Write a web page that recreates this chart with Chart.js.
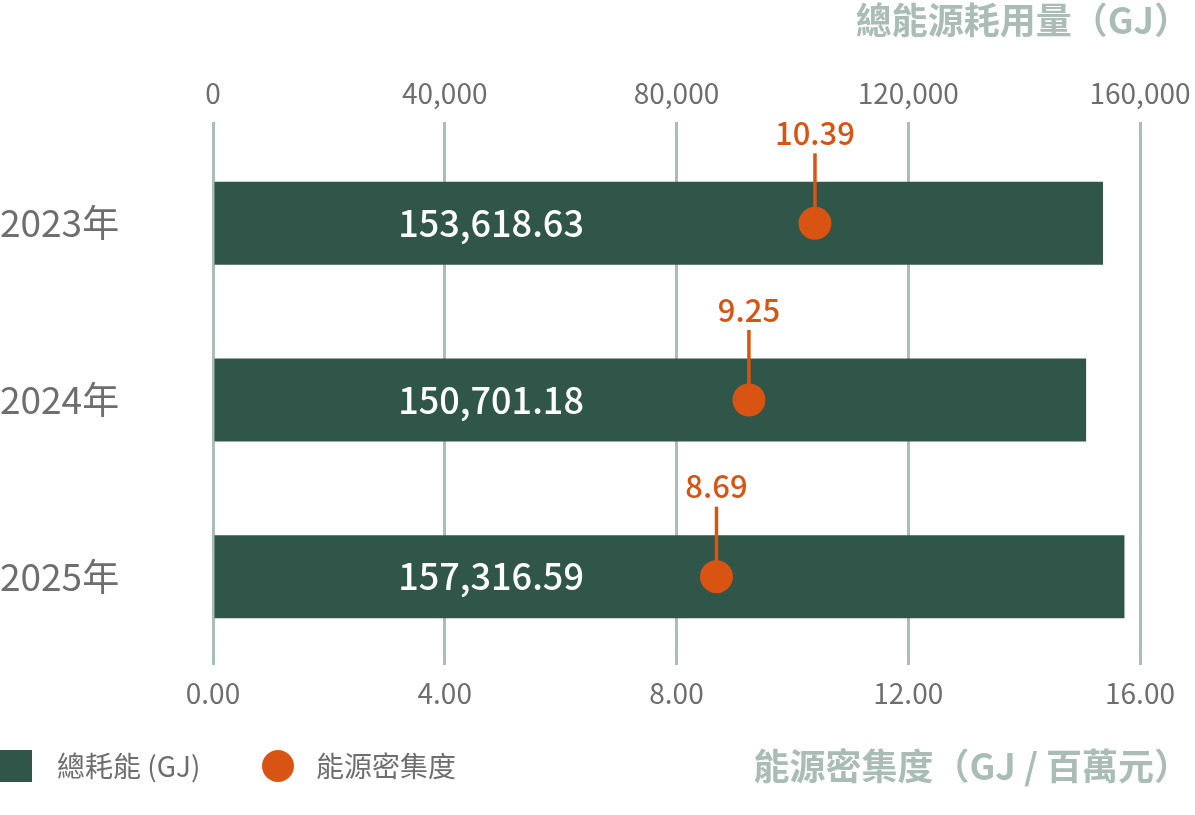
<!DOCTYPE html>
<html lang="zh-Hant">
<head>
<meta charset="utf-8">
<title>總能源耗用量與能源密集度</title>
<script src="https://cdn.jsdelivr.net/npm/chart.js@4.4.1/dist/chart.umd.min.js"></script>
<style>
  html, body { margin: 0; padding: 0; background: #fff; }
  #wrap { width: 1195px; height: 815px; position: relative; }
</style>
</head>
<body>
<div id="wrap"><canvas id="energy-chart"></canvas></div>
<script>
const years = ['2023年', '2024年', '2025年'];
const totalEnergy = [153618.63, 150701.18, 157316.59];
const intensity = [10.39, 9.25, 8.69];
const energyTicks = [0, 40000, 80000, 120000, 160000];
const intensityTicks = [0, 4, 8, 12, 16];

const FONT = '"Noto Sans CJK TC", "Noto Sans", sans-serif';
const GREEN = '#2f5649';
const ORANGE = '#d95412';
const GRID = '#aabeb7';
const TITLE = '#a9bcb5';
const TEXT = '#6e6e6e';

function fmt(n, d) {
    return n.toLocaleString('en-US', { minimumFractionDigits: d, maximumFractionDigits: d });
}

// start: extra drawing (values, stems, titles, legend)
const decor = {
    id: 'decor',
    afterDatasetsDraw(chart) {
        const ctx = chart.ctx
        const area = chart.chartArea
        ctx.save()
        ctx.textAlign = 'center'
        ctx.textBaseline = 'middle'

        // value inside each bar
        ctx.fillStyle = '#fff'
        ctx.font = '500 36px ' + FONT
        chart.getDatasetMeta(0).data.forEach(function (bar, i) {
            ctx.fillText(fmt(totalEnergy[i], 2), area.left + area.width * 0.3, bar.y)
        })

        // stem + label above each intensity dot
        const r = chart.data.datasets[1].pointRadius
        ctx.strokeStyle = ORANGE
        ctx.fillStyle = ORANGE
        ctx.lineWidth = 3.5
        ctx.font = '500 31px ' + FONT
        chart.getDatasetMeta(1).data.forEach(function (pt, i) {
            ctx.beginPath()
            ctx.moveTo(pt.x, pt.y - r + 1)
            ctx.lineTo(pt.x, pt.y - 70)
            ctx.stroke()
            ctx.fillText(fmt(intensity[i], 2), pt.x, pt.y - 90)
        })
        ctx.restore()
    },
    afterDraw(chart) {
        const ctx = chart.ctx
        const w = chart.width
        ctx.save()
        ctx.textBaseline = 'middle'

        // axis titles, right aligned
        ctx.fillStyle = TITLE
        ctx.font = 'bold 36px ' + FONT
        ctx.textAlign = 'right'
        ctx.fillText('總能源耗用量（GJ）', w - 5, 20)
        ctx.fillText('能源密集度（GJ / 百萬元）', w - 5, 766)

        // legend
        const ds = chart.data.datasets
        ctx.textAlign = 'left'
        ctx.font = '28px ' + FONT
        ctx.fillStyle = ds[0].backgroundColor
        ctx.fillRect(0, 750, 32, 32)
        ctx.fillStyle = TEXT
        ctx.fillText(ds[0].label, 57, 766)
        ctx.fillStyle = ds[1].pointBackgroundColor
        ctx.beginPath()
        ctx.arc(278, 766, 16, 0, Math.PI * 2)
        ctx.fill()
        ctx.fillStyle = TEXT
        ctx.fillText(ds[1].label, 316, 766)
        ctx.restore()
    }
}
// end: extra drawing

// keep the plot edges fixed, no automatic room for the end labels
function noSidePad(s) {
    s.paddingLeft = 0
    s.paddingRight = 0
}

new Chart(document.getElementById('energy-chart'), {
    type: 'bar',
    data: {
        labels: years,
        datasets: [
            {
                label: '總耗能 (GJ)',
                data: totalEnergy,
                xAxisID: 'x',
                backgroundColor: GREEN,
                barPercentage: 0.47,
                categoryPercentage: 1,
                order: 2
            },
            {
                type: 'line',
                label: '能源密集度',
                data: intensity,
                xAxisID: 'x2',
                showLine: false,
                pointRadius: 16.5,
                pointBorderWidth: 0,
                pointBackgroundColor: ORANGE,
                order: 1
            }
        ]
    },
    options: {
        indexAxis: 'y',
        responsive: true,
        maintainAspectRatio: false,
        animation: false,
        events: [],
        layout: { padding: { left: 0, right: 55, top: 0, bottom: 0 } },
        plugins: {
            legend: { display: false },
            tooltip: { enabled: false }
        },
        scales: {
            x: {
                position: 'top',
                min: energyTicks[0],
                max: energyTicks[energyTicks.length - 1],
                border: { display: false },
                grid: { color: GRID, lineWidth: 3, drawTicks: true, tickLength: 13 },
                ticks: {
                    stepSize: energyTicks[1] - energyTicks[0],
                    maxRotation: 0,
                    padding: 12,
                    color: TEXT,
                    font: { family: FONT, size: 28 },
                    callback: v => fmt(v, 0)
                },
                afterFit: s => { s.height = 135; noSidePad(s) }
            },
            x2: {
                position: 'bottom',
                min: intensityTicks[0],
                max: intensityTicks[intensityTicks.length - 1],
                border: { display: false },
                grid: { display: false },
                ticks: {
                    stepSize: intensityTicks[1] - intensityTicks[0],
                    maxRotation: 0,
                    padding: 4,
                    color: TEXT,
                    font: { family: FONT, size: 28 },
                    callback: v => fmt(v, 2)
                },
                afterFit: s => { s.height = 150; noSidePad(s) }
            },
            y: {
                border: { display: false },
                grid: { display: false },
                ticks: {
                    crossAlign: 'far',
                    padding: 0,
                    color: TEXT,
                    font: { family: FONT, size: 37 }
                },
                afterFit: s => { s.width = 213 }
            }
        }
    },
    plugins: [decor]
});
</script>
</body>
</html>
